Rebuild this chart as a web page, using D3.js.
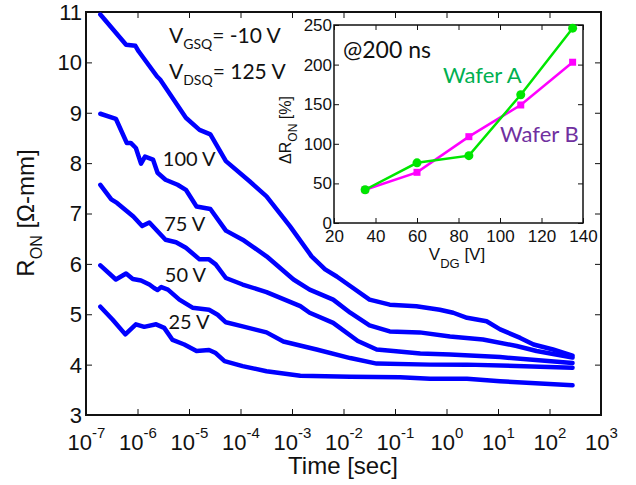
<!DOCTYPE html>
<html>
<head>
<meta charset="utf-8">
<script src="https://cdn.jsdelivr.net/npm/d3@7"></script>
<style>
  body { margin: 0; background: #fff; }
  svg { display: block; }
  .axis text { font-family: "Liberation Sans", Arial, sans-serif; fill: #111; }
  .axis line { stroke: #111; }
  .axis-title { font-family: "Liberation Sans", Arial, sans-serif; fill: #111; }
  .note { font-family: Lato, sans-serif; fill: #111; }
</style>
</head>
<body>
<svg id="chart"></svg>
<script>
// Transient R_ON curves, time in seconds, R_ON in ohm-mm
const TIME_125 = [1.9e-7, 6.0e-7, 9.1e-7, 1.05e-6, 2.4e-6, 2.75e-6, 8.7e-6, 1.6e-5, 2.6e-5, 5.2e-5, 1.5e-4, 3.2e-4, 9.1e-4, 2.4e-3, 4.4e-3, 7.4e-3, 1.35e-2, 3.2e-2, 7.9e-2, 0.26, 0.74, 1.35, 2.5, 6.0, 11, 27, 49, 117, 280];
const RON_125 = [10.95, 10.35, 10.33, 10.22, 9.72, 9.66, 8.90, 8.66, 8.57, 8.04, 7.64, 7.34, 6.75, 6.15, 5.89, 5.75, 5.56, 5.29, 5.19, 5.16, 5.09, 5.03, 4.93, 4.86, 4.70, 4.53, 4.40, 4.30, 4.18];

const TIME_100 = [1.9e-7, 3.8e-7, 6.2e-7, 7.4e-7, 9.3e-7, 1.17e-6, 1.4e-6, 2.0e-6, 2.45e-6, 3.5e-6, 6.0e-6, 8.7e-6, 1.4e-5, 2.6e-5, 5.2e-5, 1.1e-4, 3.2e-4, 1.07e-3, 2.2e-3, 6.3e-3, 1.35e-2, 3.2e-2, 7.9e-2, 0.3, 1.17, 5.1, 23, 56, 280];
const RON_100 = [8.98, 8.88, 8.40, 8.40, 8.30, 7.99, 8.13, 8.07, 7.81, 7.67, 7.57, 7.47, 7.14, 7.09, 6.66, 6.48, 6.15, 5.69, 5.49, 5.29, 5.03, 4.78, 4.66, 4.64, 4.56, 4.50, 4.37, 4.27, 4.14];

const TIME_75 = [1.9e-7, 3.1e-7, 4.0e-7, 8.3e-7, 1.23e-6, 1.7e-6, 3.5e-6, 5.6e-6, 8.7e-6, 1.6e-5, 2.45e-5, 3.3e-5, 5.2e-5, 1.1e-4, 3.2e-4, 1.45e-3, 2.2e-3, 6.3e-3, 1.9e-2, 4.4e-2, 9.3e-2, 0.31, 1.17, 11, 280];
const RON_75 = [7.57, 7.28, 7.21, 6.94, 6.75, 6.82, 6.48, 6.43, 6.32, 6.09, 6.09, 5.99, 5.72, 5.59, 5.44, 5.16, 5.03, 4.83, 4.47, 4.30, 4.27, 4.22, 4.20, 4.15, 4.03];

const TIME_50 = [1.9e-7, 3.8e-7, 6.0e-7, 8.1e-7, 1.17e-6, 1.7e-6, 2.1e-6, 2.45e-6, 2.9e-6, 3.9e-6, 6.5e-6, 1.17e-5, 2.45e-5, 3.6e-5, 5.2e-5, 1.1e-4, 3.2e-4, 6.8e-4, 3.0e-3, 1.35e-2, 4.4e-2, 0.48, 2.5, 280];
const RON_50 = [5.97, 5.69, 5.81, 5.70, 5.67, 5.59, 5.52, 5.48, 5.54, 5.49, 5.29, 5.13, 5.09, 4.99, 4.84, 4.76, 4.64, 4.46, 4.30, 4.13, 4.02, 4.00, 4.00, 3.94];

const TIME_25 = [1.9e-7, 3.3e-7, 5.8e-7, 9.3e-7, 1.35e-6, 2.3e-6, 3.3e-6, 4.8e-6, 8.1e-6, 1.4e-5, 2.45e-5, 3.3e-5, 4.9e-5, 1.1e-4, 3.2e-4, 1.45e-3, 1.35e-2, 0.126, 0.48, 2.5, 11, 280];
const RON_25 = [5.15, 4.89, 4.60, 4.80, 4.75, 4.80, 4.73, 4.49, 4.40, 4.27, 4.29, 4.23, 4.07, 3.97, 3.87, 3.78, 3.76, 3.75, 3.72, 3.72, 3.67, 3.59];

const TIME_TICKS = [1e-7, 1e-6, 1e-5, 1e-4, 1e-3, 1e-2, 1e-1, 1e0, 1e1, 1e2, 1e3];
const TIME_EXPONENTS = ["-7", "-6", "-5", "-4", "-3", "-2", "-1", "0", "1", "2", "3"];
const RON_TICKS = [3, 4, 5, 6, 7, 8, 9, 10, 11];

// Inset: delta R_ON at 200 ns versus V_DG
const VDG = [35, 60, 85, 110, 135];
const WAFER_A = [42, 76, 85, 162, 246];
const WAFER_B = [42, 64, 109, 149, 203];
const VDG_TICKS = [20, 40, 60, 80, 100, 120, 140];
const DELTA_TICKS = [0, 50, 100, 150, 200, 250];

const config = {
  width: 636,
  height: 485,
  margin: { top: 12, right: 35, bottom: 70, left: 86 },
  inset: { left: 334, top: 25, width: 249, height: 198 },
};

const svg = d3
  .select("#chart")
  .attr("width", config.width)
  .attr("height", config.height);

const innerWidth = config.width - config.margin.left - config.margin.right;
const innerHeight = config.height - config.margin.top - config.margin.bottom;

const chart = svg
  .append("g")
  .attr("transform", `translate(${config.margin.left}, ${config.margin.top})`);

// Scales
const xScale = d3.scaleLog().domain([1e-7, 1e3]).range([0, innerWidth]);
const yScale = d3.scaleLinear().domain([3, 11]).range([innerHeight, 0]);

// Axes, ticks point inwards on all four sides
const xAxisG = chart
  .append("g")
  .attr("class", "axis x-axis")
  .attr("transform", `translate(0, ${innerHeight})`)
  .call(d3.axisBottom(xScale).tickValues(TIME_TICKS).tickSize(-6).tickFormat(""));

xAxisG.selectAll(".tick").each(function (d, i) {
  const t = d3
    .select(this)
    .append("text")
    .attr("y", 35)
    .attr("text-anchor", "middle")
    .attr("font-size", 22);
  t.append("tspan").text("10");
  t.append("tspan").attr("dy", -12).attr("font-size", 15).text(TIME_EXPONENTS[i]);
});

chart
  .append("g")
  .attr("class", "axis x-axis-top")
  .call(d3.axisTop(xScale).tickValues(TIME_TICKS).tickSize(-6).tickFormat(""));

chart
  .append("g")
  .attr("class", "axis y-axis")
  .call(d3.axisLeft(yScale).tickValues(RON_TICKS).tickSize(-6).tickPadding(4))
  .call((g) => g.selectAll("text").attr("font-size", 22).attr("dy", "0.34em"));

chart
  .append("g")
  .attr("class", "axis y-axis-right")
  .attr("transform", `translate(${innerWidth}, 0)`)
  .call(d3.axisRight(yScale).tickValues(RON_TICKS).tickSize(-6).tickFormat(""));

chart.selectAll(".domain").remove();

chart
  .append("rect")
  .attr("width", innerWidth)
  .attr("height", innerHeight)
  .attr("fill", "none")
  .attr("stroke", "#111")
  .attr("stroke-width", 2);

// Curves
const line = d3
  .line()
  .x((d) => xScale(d[0]))
  .y((d) => yScale(d[1]));

const curves = [
  [TIME_125, RON_125],
  [TIME_100, RON_100],
  [TIME_75, RON_75],
  [TIME_50, RON_50],
  [TIME_25, RON_25],
].map(([t, r]) => d3.zip(t, r));

chart
  .selectAll(".curve")
  .data(curves)
  .join("path")
  .attr("class", "curve")
  .attr("fill", "none")
  .attr("stroke", "#0000ff")
  .attr("stroke-width", 4.5)
  .attr("stroke-linejoin", "round")
  .attr("stroke-linecap", "round")
  .attr("d", line);

// Curve labels
const labels = [
  { text: "100 V", t: 3.1e-6, r: 7.95 },
  { text: "75 V", t: 3.3e-6, r: 6.66 },
  { text: "50 V", t: 3.4e-6, r: 5.65 },
  { text: "25 V", t: 4.0e-6, r: 4.70 },
];
chart
  .selectAll(".curve-label")
  .data(labels)
  .join("text")
  .attr("class", "note curve-label")
  .attr("x", (d) => xScale(d.t))
  .attr("y", (d) => yScale(d.r))
  .attr("font-size", 20)
  .text((d) => d.text);

function biasLabel(y, sub, rest) {
  const t = svg
    .append("text")
    .attr("class", "note")
    .attr("x", 169)
    .attr("y", y)
    .attr("font-size", 21);
  t.append("tspan").text("V");
  t.append("tspan").attr("dy", 6).attr("font-size", 14).text(sub);
  t.append("tspan").attr("dy", -6).text(rest);
}
biasLabel(43, "GSQ", "= -10 V");
biasLabel(79, "DSQ", "= 125 V");

// Axis titles
const yTitle = svg
  .append("text")
  .attr("class", "axis-title")
  .attr("transform", "translate(34, 213) rotate(-90)")
  .attr("text-anchor", "middle")
  .attr("font-size", 24);
yTitle.append("tspan").text("R");
yTitle.append("tspan").attr("dy", 8).attr("font-size", 16).text("ON");
yTitle.append("tspan").attr("dy", -8).text(" [\u03A9-mm]");

svg
  .append("text")
  .attr("class", "axis-title")
  .attr("x", 343)
  .attr("y", 474)
  .attr("text-anchor", "middle")
  .attr("font-size", 24)
  .text("Time [sec]");

// Inset chart
const inset = svg
  .append("g")
  .attr("transform", `translate(${config.inset.left}, ${config.inset.top})`);

const ix = d3.scaleLinear().domain([20, 140]).range([0, config.inset.width]);
const iy = d3.scaleLinear().domain([0, 250]).range([config.inset.height, 0]);

inset
  .append("rect")
  .attr("width", config.inset.width)
  .attr("height", config.inset.height)
  .attr("fill", "#fff");

inset
  .append("g")
  .attr("class", "axis")
  .attr("transform", `translate(0, ${config.inset.height})`)
  .call(d3.axisBottom(ix).tickValues(VDG_TICKS).tickSize(-5).tickPadding(7))
  .call((g) => g.selectAll("text").attr("font-size", 17));

inset
  .append("g")
  .attr("class", "axis")
  .call(d3.axisTop(ix).tickValues(VDG_TICKS).tickSize(-5).tickFormat(""));

inset
  .append("g")
  .attr("class", "axis")
  .call(d3.axisLeft(iy).tickValues(DELTA_TICKS).tickSize(-5).tickPadding(2))
  .call((g) => g.selectAll("text").attr("font-size", 17));

inset
  .append("g")
  .attr("class", "axis")
  .attr("transform", `translate(${config.inset.width}, 0)`)
  .call(d3.axisRight(iy).tickValues(DELTA_TICKS).tickSize(-5).tickFormat(""));

inset.selectAll(".domain").remove();

inset
  .append("rect")
  .attr("width", config.inset.width)
  .attr("height", config.inset.height)
  .attr("fill", "none")
  .attr("stroke", "#111")
  .attr("stroke-width", 1.5);

const insetLine = d3
  .line()
  .x((d) => ix(d[0]))
  .y((d) => iy(d[1]));

const waferB = d3.zip(VDG, WAFER_B);
const waferA = d3.zip(VDG, WAFER_A);

inset
  .append("path")
  .attr("fill", "none")
  .attr("stroke", "#ff00ff")
  .attr("stroke-width", 2.5)
  .attr("d", insetLine(waferB));

inset
  .selectAll(".sq")
  .data(waferB)
  .join("rect")
  .attr("class", "sq")
  .attr("x", (d) => ix(d[0]) - 3.5)
  .attr("y", (d) => iy(d[1]) - 3.5)
  .attr("width", 7)
  .attr("height", 7)
  .attr("fill", "#ff00ff");

inset
  .append("path")
  .attr("fill", "none")
  .attr("stroke", "#00e600")
  .attr("stroke-width", 2.5)
  .attr("d", insetLine(waferA));

inset
  .selectAll(".dot")
  .data(waferA)
  .join("circle")
  .attr("class", "dot")
  .attr("cx", (d) => ix(d[0]))
  .attr("cy", (d) => iy(d[1]))
  .attr("r", 4.5)
  .attr("fill", "#00e600");

svg
  .append("text")
  .attr("class", "note")
  .attr("x", 343)
  .attr("y", 58)
  .attr("font-size", 23)
  .text("@200 ns");

svg
  .append("text")
  .attr("class", "note")
  .attr("x", 443)
  .attr("y", 83)
  .attr("font-size", 22)
  .attr("fill", "#00b050")
  .style("fill", "#00b050")
  .text("Wafer A");

svg
  .append("text")
  .attr("class", "note")
  .attr("x", 500)
  .attr("y", 142)
  .attr("font-size", 22)
  .style("fill", "#7030a0")
  .text("Wafer B");

const ixTitle = svg
  .append("text")
  .attr("class", "axis-title")
  .attr("x", 457)
  .attr("y", 260)
  .attr("text-anchor", "middle")
  .attr("font-size", 17);
ixTitle.append("tspan").text("V");
ixTitle.append("tspan").attr("dy", 8).attr("font-size", 13).text("DG");
ixTitle.append("tspan").attr("dy", -8).text(" [V]");

const iyTitle = svg
  .append("text")
  .attr("class", "axis-title")
  .attr("transform", "translate(291, 130) rotate(-90)")
  .attr("text-anchor", "middle")
  .attr("font-size", 16);
iyTitle.append("tspan").text("\u0394R");
iyTitle.append("tspan").attr("dy", 6).attr("font-size", 12).text("ON");
iyTitle.append("tspan").attr("dy", -6).text(" [%]");
</script>
</body>
</html>
